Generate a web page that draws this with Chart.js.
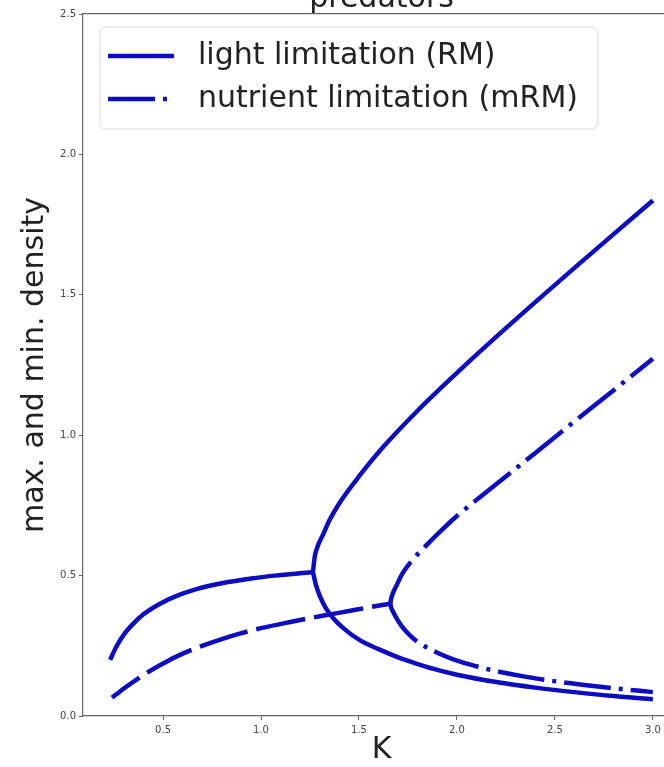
<!DOCTYPE html>
<html lang="en">
<head>
<meta charset="UTF-8">
<title>predators</title>
<script src="https://cdn.jsdelivr.net/npm/chart.js"></script>
<style>
  html, body { margin: 0; padding: 0; overflow: hidden; background: #fff; }
  /* the plot is a bit wider and taller than the window, the title is cut like in the original */
  #chartContainer { position: absolute; left: 0; top: -16px; width: 684px; height: 783px; }
</style>
</head>
<body>
<div id="chartContainer"><canvas id="bifChart"></canvas></div>
<script>
// light limitation (RM): one equilibrium up to the bifurcation, then max / min of the cycle
const rmK       = [0.23, 0.26, 0.30, 0.35, 0.40, 0.48, 0.56, 0.67, 0.80, 0.95, 1.10, 1.265];
const rmDensity = [0.200, 0.245, 0.290, 0.330, 0.362, 0.398, 0.425, 0.452, 0.473, 0.490, 0.502, 0.513];
const rmMaxK = [1.265, 1.275, 1.29, 1.316, 1.35, 1.40, 1.50, 1.62, 1.80, 2.00, 2.20, 2.40, 2.60, 2.80, 3.00];
const rmMax  = [0.513, 0.570, 0.606, 0.645, 0.698, 0.758, 0.853, 0.955, 1.088, 1.222, 1.350, 1.474, 1.596, 1.716, 1.836];
const rmMinK = [1.265, 1.28, 1.30, 1.33, 1.37, 1.42, 1.50, 1.60, 1.70, 1.80, 1.90, 2.00, 2.20, 2.40, 2.60, 2.80, 3.00];
const rmMin  = [0.513, 0.468, 0.428, 0.385, 0.347, 0.313, 0.272, 0.238, 0.209, 0.185, 0.164, 0.147, 0.121, 0.101, 0.085, 0.071, 0.060];

// nutrient limitation (mRM)
const mrmK       = [0.24, 0.30, 0.40, 0.50, 0.60, 0.70, 0.80, 0.90, 1.00, 1.15, 1.30, 1.45, 1.56, 1.66];
const mrmDensity = [0.065, 0.098, 0.146, 0.187, 0.222, 0.250, 0.274, 0.295, 0.313, 0.335, 0.355, 0.374, 0.388, 0.400];
const mrmMaxK = [1.66, 1.665, 1.675, 1.69, 1.72, 1.776, 1.85, 1.93, 2.00, 2.20, 2.40, 2.60, 2.80, 3.00];
const mrmMax  = [0.400, 0.420, 0.440, 0.462, 0.505, 0.558, 0.612, 0.667, 0.712, 0.825, 0.937, 1.049, 1.160, 1.272];
const mrmMinK = [1.66, 1.665, 1.675, 1.69, 1.72, 1.76, 1.80, 1.90, 2.00, 2.10, 2.20, 2.40, 2.60, 2.80, 3.00];
const mrmMin  = [0.400, 0.385, 0.370, 0.350, 0.318, 0.287, 0.264, 0.225, 0.197, 0.177, 0.160, 0.134, 0.115, 0.099, 0.085];

const xTicks = [0.5, 1.0, 1.5, 2.0, 2.5, 3.0];
const yTicks = [0.0, 0.5, 1.0, 1.5, 2.0, 2.5];

const toPoints = (xs, ys) => xs.map((x, i) => ({ x: x, y: ys[i] }));

const blue = '#0c0cc0';
const dashDot = [47, 8, 4, 8];
const longDash = [50, 9];
const font = 'DejaVu Sans';

const lineStyle = {
    borderColor: blue,
    borderWidth: 4.5,
    pointRadius: 0,
    fill: false,
    cubicInterpolationMode: 'monotone',
    borderCapStyle: 'butt',
    borderJoinStyle: 'round'
};

// legend drawn inside the axes, matplotlib style
const legendBox = {
    id: 'legendBox',
    afterDraw(chart) {
        const { ctx, chartArea } = chart;
        const entries = chart.data.datasets.filter(d => d.inLegend);
        ctx.save();
        ctx.font = '30px "' + font + '"';
        const boxX = chartArea.left + 17, boxY = chartArea.top + 13;
        const lineX = boxX + 8, lineLen = 66, textX = boxX + 98;
        const textW = Math.max(...entries.map(d => ctx.measureText(d.label).width));
        const boxW = textX - boxX + textW + 20, boxH = 102;
        ctx.beginPath();
        ctx.roundRect(boxX, boxY, boxW, boxH, 6);
        ctx.fillStyle = 'rgba(255,255,255,0.8)';
        ctx.fill();
        ctx.strokeStyle = '#d8d8d8';
        ctx.lineWidth = 1;
        ctx.stroke();
        entries.forEach((d, i) => {
            const y = boxY + 29 + i * 43;
            ctx.beginPath();
            ctx.setLineDash(d.borderDash || []);
            ctx.lineWidth = d.borderWidth;
            ctx.strokeStyle = d.borderColor;
            ctx.lineCap = 'butt';
            ctx.moveTo(lineX, y);
            ctx.lineTo(lineX + lineLen, y);
            ctx.stroke();
            ctx.setLineDash([]);
            ctx.fillStyle = '#222';
            ctx.textBaseline = 'middle';
            ctx.fillText(d.label, textX, y);
        });
        ctx.restore();
    }
};

const tickFont = { family: font, size: 10 };

new Chart(document.getElementById('bifChart'), {
    type: 'line',
    data: {
        datasets: [
            { ...lineStyle, label: 'light limitation (RM)', data: toPoints(rmK, rmDensity), inLegend: true },
            { ...lineStyle, label: 'RM max', data: toPoints(rmMaxK, rmMax) },
            { ...lineStyle, label: 'RM min', data: toPoints(rmMinK, rmMin) },
            { ...lineStyle, label: 'mRM equilibrium', data: toPoints(mrmK, mrmDensity), borderDash: longDash, borderDashOffset: 16 },
            { ...lineStyle, label: 'nutrient limitation (mRM)', data: toPoints(mrmMaxK, mrmMax), borderDash: dashDot, inLegend: true },
            { ...lineStyle, label: 'mRM min', data: toPoints(mrmMinK, mrmMin), borderDash: dashDot }
        ]
    },
    options: {
        responsive: true,
        maintainAspectRatio: false,
        animation: false,
        layout: { padding: { left: 0, right: 4, top: 0, bottom: 0 } },
        scales: {
            x: {
                type: 'linear',
                min: 0.0915,
                max: 3.1385,
                afterFit: a => { a.height = 51; },
                afterBuildTicks: a => { a.ticks = xTicks.map(v => ({ value: v })); },
                ticks: { font: tickFont, color: '#444', padding: 4, maxRotation: 0, callback: v => v.toFixed(1) },
                grid: { drawOnChartArea: false, tickLength: 4, tickColor: '#666' },
                border: { color: '#666', width: 1.2 },
                title: { display: true, text: 'K', color: '#222', font: { family: font, size: 30, lineHeight: 1.15 }, padding: 0 }
            },
            xTop: {
                type: 'linear',
                position: 'top',
                min: 0,
                max: 1,
                afterFit: a => { a.height = 0; },
                ticks: { display: false },
                grid: { display: false, drawTicks: false },
                border: { display: true, color: '#666', width: 1.2 }
            },
            y: {
                min: 0,
                max: 2.5,
                afterFit: a => { a.width = 83; },
                afterBuildTicks: a => { a.ticks = yTicks.map(v => ({ value: v })); },
                ticks: { font: tickFont, color: '#444', padding: 3, callback: v => v.toFixed(1) },
                grid: { drawOnChartArea: false, tickLength: 4, tickColor: '#666' },
                border: { color: '#666', width: 1.2 },
                title: { display: true, text: 'max. and min. density', color: '#222', font: { family: font, size: 30, lineHeight: 1.2 }, padding: { top: 17, bottom: 0 } }
            }
        },
        plugins: {
            legend: { display: false },
            tooltip: { enabled: false },
            title: {
                display: true,
                text: 'predators',
                fullSize: false,
                color: '#222',
                font: { family: font, size: 30, weight: 'normal', lineHeight: 1.0 },
                padding: 0
            }
        }
    },
    plugins: [legendBox]
});
</script>
</body>
</html>
